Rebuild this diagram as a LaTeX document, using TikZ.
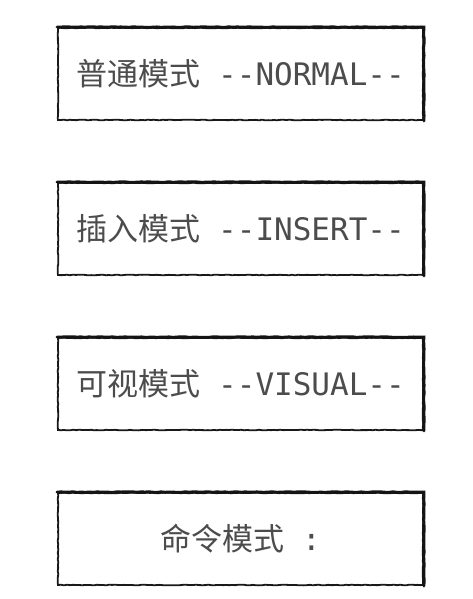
\documentclass[tikz,border=0pt]{standalone}
\usepackage{fontspec}
\newfontfamily\cjk{Noto Sans CJK SC}
\setmonofont{DejaVu Sans Mono}
\usetikzlibrary{decorations.pathmorphing}

\begin{document}
\begin{tikzpicture}[x=1pt,y=1pt,
    modebox/.style={draw=black!90, line width=1.8pt, minimum width=365pt, minimum height=92pt,
      inner sep=0pt, text=black!70, font=\fontsize{31}{36}\selectfont,
      decoration={random steps, segment length=3pt, amplitude=0.35pt}, decorate},
    heavy/.style={draw=black!92, line width=3pt, line cap=round,
      decoration={random steps, segment length=4pt, amplitude=0.3pt}, decorate}]
  \useasboundingbox (0,0) rectangle (472,-599);

  \node[modebox] (normal) at (240.5,-74) {{\cjk 普通模式}\hspace{18pt}{\ttfamily --NORMAL--}};
  \node[modebox] (insert) at (240.5,-229) {{\cjk 插入模式}\hspace{18pt}{\ttfamily --INSERT--}};
  \node[modebox] (visual) at (240.5,-384) {{\cjk 可视模式}\hspace{18pt}{\ttfamily --VISUAL--}};
  \node[modebox] (command) at (240.5,-539) {{\cjk 命令模式}\hspace{18pt}{\ttfamily :}};

  % heavier top and right edges
  \foreach \m in {normal,insert,visual,command} {
    \draw[heavy] (\m.north west) -- (\m.north east) -- (\m.south east);
  }
\end{tikzpicture}
\end{document}
